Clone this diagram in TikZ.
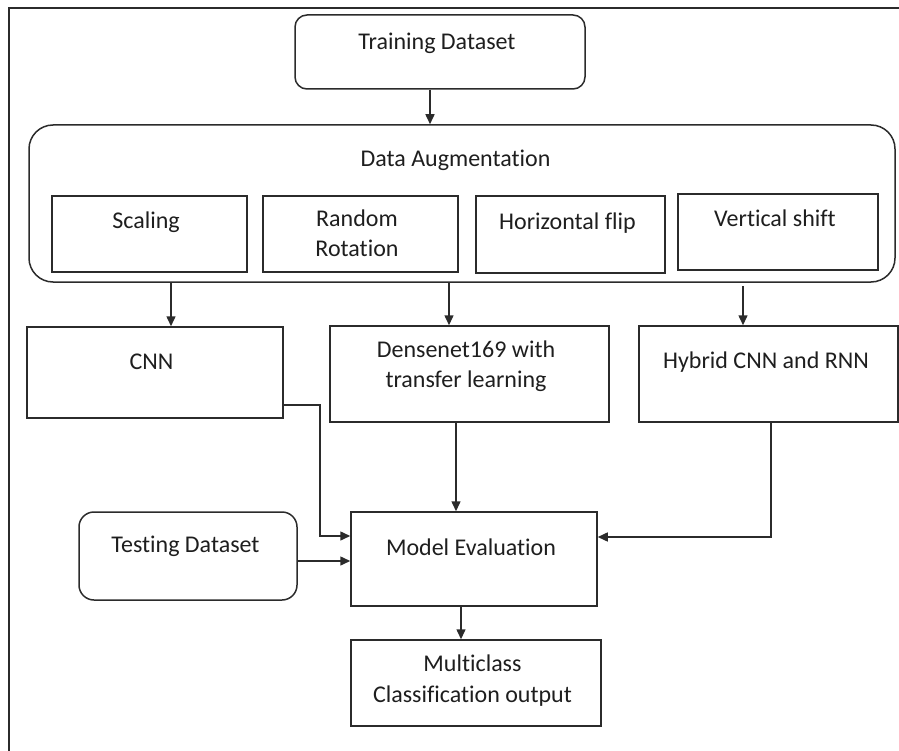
\documentclass[tikz,border=0pt]{standalone}
\usepackage{fontspec}
\setmainfont{Carlito}[Ligatures=NoCommon]
\usetikzlibrary{arrows.meta}
\definecolor{ink}{HTML}{2B2B2B}
\definecolor{txtc}{HTML}{1E1E1E}
\tikzset{
  box/.style={draw=ink, line width=1.5pt, inner sep=0pt, minimum width=#1},
  rbox/.style={box=#1, rounded corners=12pt},
  lbl/.style={anchor=base, inner sep=0pt, text=txtc, font=\fontsize{24}{30}\selectfont},
  arr/.style={draw=ink, line width=1.5pt, -{Triangle[length=10pt,width=9pt]}},
}
\begin{document}
\begin{tikzpicture}[x=1pt, y=-1pt]
  \useasboundingbox (0,0) rectangle (899,751);
  % outer frame (left and top edges)
  \draw[ink, line width=1.5pt] (9,751) -- (9,8) -- (899,8);

  % boxes
  \node[rbox=290pt, minimum height=74pt] (train) at (440,52) {};
  \node[box=866pt, minimum height=157pt, rounded corners=24pt] (da) at (462,203.5) {};
  \node[box=195pt, minimum height=76pt] (scale) at (149.5,234) {};
  \node[box=195pt, minimum height=76pt] (rot) at (360.5,234) {};
  \node[box=189pt, minimum height=77pt] (flip) at (570.5,234.5) {};
  \node[box=200pt, minimum height=76pt] (vshift) at (778,232) {};
  \node[box=256pt, minimum height=91pt] (cnn) at (155,372.5) {};
  \node[box=279pt, minimum height=96pt] (dense) at (469.5,374) {};
  \node[box=259pt, minimum height=96pt] (hyb) at (768.5,374) {};
  \node[box=218pt, minimum height=88pt, rounded corners=15pt] (test) at (188,556) {};
  \node[box=246pt, minimum height=94pt] (model) at (474,559) {};
  \node[box=250pt, minimum height=86pt] (multi) at (476,683) {};

  % labels
  \node[lbl] at (437,50) {Training Dataset};
  \node[lbl] at (455.5,167) {Data Augmentation};
  \node[lbl] at (146,229) {Scaling};
  \node[lbl] at (357,227) {Random};
  \node[lbl] at (357,257) {Rotation};
  \node[lbl] at (567.5,230) {Horizontal flip};
  \node[lbl] at (775,227) {Vertical shift};
  \node[lbl] at (151.5,369) {CNN};
  \node[lbl] at (466,357) {Densenet169 with};
  \node[lbl] at (466,387) {transfer learning};
  \node[lbl] at (766,368) {Hybrid CNN and RNN};
  \node[lbl] at (185.5,552) {Testing Dataset};
  \node[lbl] at (471,555) {Model Evaluation};
  \node[lbl] at (472.5,671) {Multiclass};
  \node[lbl] at (472.5,702) {Classification output};

  % connectors
  \draw[arr] (train.south -| 430,0) -- (da.north -| 430,0);
  \draw[arr] (da.south -| 171,0) -- (cnn.north -| 171,0);
  \draw[arr] (da.south -| 449,0) -- (dense.north -| 449,0);
  \draw[arr] (743,286) -- (hyb.north -| 743,0);
  \draw[arr] (cnn.east |- 0,405) -- (320,405) -- (320,536) -- (model.west |- 0,536);
  \draw[arr] (test.east |- 0,561) -- (model.west |- 0,561);
  \draw[arr] (dense.south -| 456,0) -- (model.north -| 456,0);
  \draw[arr] (hyb.south -| 771,0) -- (771,537) -- (model.east |- 0,537);
  \draw[arr] (model.south -| 461,0) -- (multi.north -| 461,0);
\end{tikzpicture}
\end{document}
